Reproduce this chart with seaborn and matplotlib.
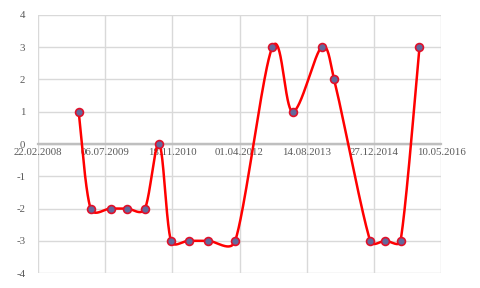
import numpy as np
import pandas as pd
import matplotlib
matplotlib.use("Agg")
import matplotlib.pyplot as plt
import matplotlib.dates as mdates
import seaborn as sns

dates = ["2008-12-21", "2009-03-20", "2009-08-16", "2009-12-15", "2010-04-28",
         "2010-08-13", "2010-11-08", "2011-03-19", "2011-08-12", "2012-02-29",
         "2012-12-01", "2013-05-02", "2013-12-02", "2014-03-06", "2014-11-29",
         "2015-03-23", "2015-07-13", "2015-12-01"]
values = [1, -2, -2, -2, -2, 0, -3, -3, -3, -3, 3, 1, 3, 2, -3, -3, -3, 3]
tick_start = "2008-02-22"
tick_step_days = 500
n_ticks = 7
y_ticks = [-4, -3, -2, -1, 0, 1, 2, 3, 4]

sns.set_theme(style="white")
plt.rcParams['font.family'] = ['Liberation Serif', 'DejaVu Serif']

W, H, DPI = 4.8, 2.88, 100
AX = [0.079, 0.052, 0.84, 0.896]

x = mdates.date2num(pd.to_datetime(dates))
y = np.array(values, dtype=float)

t0 = mdates.date2num(pd.Timestamp(tick_start))
xticks = [t0 + k * tick_step_days for k in range(n_ticks)]
xlabels = [mdates.num2date(v).strftime("%d.%m.%Y") for v in xticks]
xlim = (xticks[0], xticks[-1])
ylim = (y_ticks[0], y_ticks[-1])

# Excel-like smoothing in screen space: Catmull-Rom bezier with control
# point distance capped at half the segment length
sxs = AX[2] * W * DPI / (xlim[1] - xlim[0])
sys_ = AX[3] * H * DPI / (ylim[1] - ylim[0])

def smooth(xs, ys, n=60):
    P = np.column_stack([xs * sxs, ys * sys_])
    out = []
    for i in range(len(P) - 1):
        p0 = P[i - 1] if i > 0 else P[i]
        p1 = P[i]
        p2 = P[i + 1]
        p3 = P[i + 2] if i + 2 < len(P) else P[i + 1]
        seg_len = np.linalg.norm(p2 - p1)
        d1 = p2 - p0
        d2 = p3 - p1
        f1 = 1 / 6.0
        f2 = 1 / 6.0
        n1 = np.linalg.norm(d1)
        n2 = np.linalg.norm(d2)
        if n1 * f1 > seg_len / 2:
            f1 = (seg_len / 2) / n1
        if n2 * f2 > seg_len / 2:
            f2 = (seg_len / 2) / n2
        c1 = p1 + d1 * f1
        c2 = p2 - d2 * f2
        t = np.linspace(0, 1, n)[:, None]
        seg = ((1 - t) ** 3) * p1 + 3 * ((1 - t) ** 2) * t * c1 + 3 * (1 - t) * t ** 2 * c2 + t ** 3 * p2
        out.append(seg if i == 0 else seg[1:])
    S = np.vstack(out)
    return S[:, 0] / sxs, S[:, 1] / sys_

sx, sy = smooth(x, y)
curve = pd.DataFrame({"x": sx, "y": sy})
pts = pd.DataFrame({"x": x, "y": y})

fig = plt.figure(figsize=(W, H), dpi=DPI)
ax = fig.add_axes(AX)

for v in xticks:
    ax.axvline(v, color="#D9D9D9", lw=1.0, zorder=0)
for v in y_ticks:
    ax.axhline(v, color="#D9D9D9", lw=1.0, zorder=0)
ax.axhline(0, color="#BFBFBF", lw=1.6, zorder=1)

ax.plot(curve["x"], curve["y"], color="#FF0000", lw=1.8, zorder=3)
sns.scatterplot(data=pts, x="x", y="y", ax=ax, s=32, color="#62699C",
                edgecolor="#E0102A", linewidth=1.2, zorder=4)

ax.set_xlim(*xlim)
ax.set_ylim(*ylim)
ax.set_xticks(xticks)
ax.set_xticklabels(xlabels)
ax.set_yticks(y_ticks)
ax.set_yticklabels([str(v) for v in y_ticks])
ax.set_xlabel("")
ax.set_ylabel("")

for s in ax.spines.values():
    s.set_visible(False)
ax.spines['bottom'].set_visible(True)
ax.spines['bottom'].set_position(('data', 0))
ax.spines['bottom'].set_color("#BFBFBF")
ax.spines['bottom'].set_linewidth(1.6)

ax.tick_params(axis='both', length=0, labelsize=7.8, colors="#595959")
ax.tick_params(axis='x', pad=3)
ax.tick_params(axis='y', pad=9)

fig.savefig("out.png", dpi=DPI)
